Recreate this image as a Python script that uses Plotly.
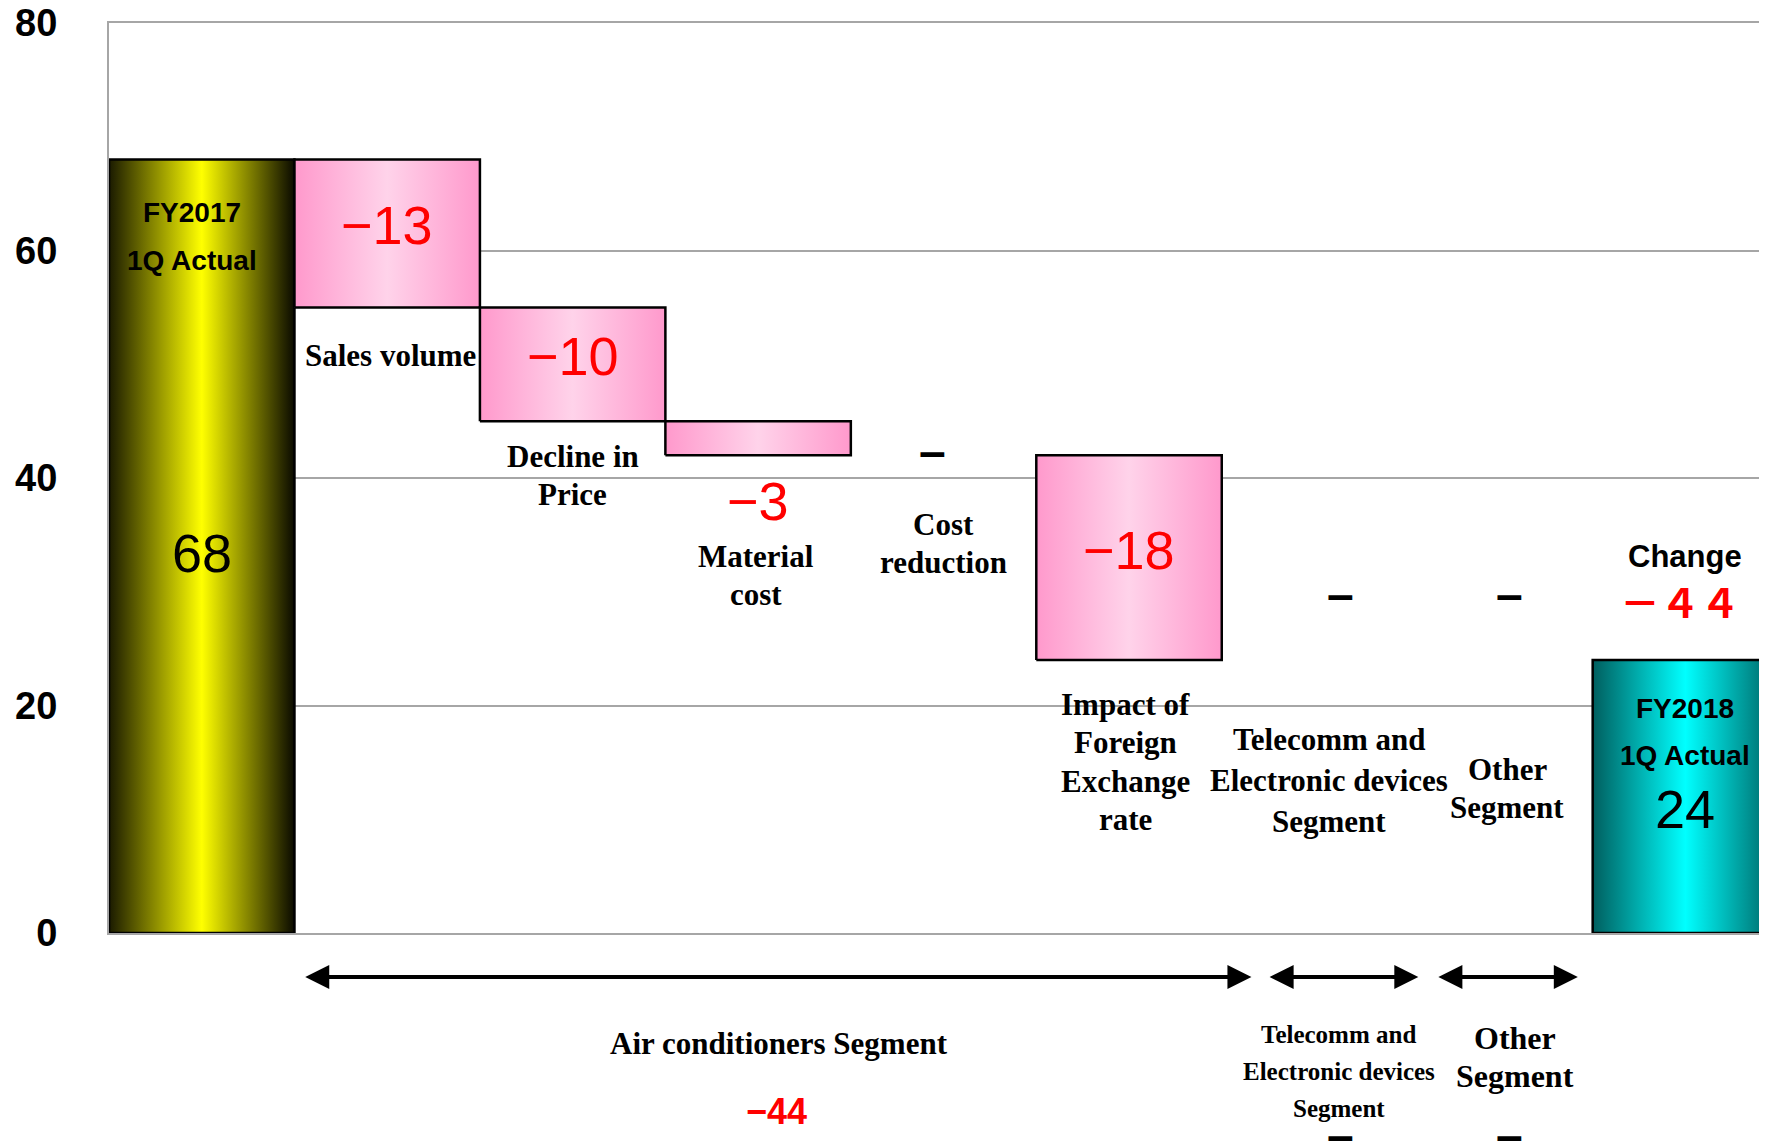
import plotly.graph_objects as go

# --- data -------------------------------------------------------------------
categories = [
    "FY2017 1Q Actual", "Sales volume", "Decline in Price", "Material cost",
    "Cost reduction", "Impact of Foreign Exchange rate",
    "Telecomm and Electronic devices Segment", "Other Segment", "FY2018 1Q Actual",
]
values = [68, -13, -10, -3, 0, -18, 0, 0, 24]
kinds = ["total", "delta", "delta", "delta", "delta", "delta", "delta", "delta", "total"]
value_labels = ["68", "−13", "−10", "−3", "", "−18", "", "", "24"]
y_ticks = [0, 20, 40, 60, 80]
segments = ["Air conditioners Segment", "Telecomm and Electronic devices Segment", "Other Segment"]
segment_changes = ["−44", "–", "–"]
total_change = "－４４"

SANS = "Liberation Sans, Arial, sans-serif"
SERIF = "Liberation Serif, Times New Roman, serif"
CJK = "Noto Sans CJK JP, sans-serif"
RED = "#ff0000"

PINK = [[0, "#ff99cc"], [0.5, "#ffd3ea"], [1, "#ff99cc"]]
YELLOW = [[0, "#1a1a00"], [0.5, "#ffff00"], [1, "#0a0a00"]]
TEAL = [[0, "#005e5e"], [0.5, "#00ffff"], [1, "#005e5e"]]

Y_MAX = 80
X_RANGE = [-0.5, 8.44]
W, H = 1759, 1136          # page body has an 8px margin
M = dict(l=101, r=0, t=15, b=211)
PX_PER_X = (W - M["l"] - M["r"]) / (X_RANGE[1] - X_RANGE[0])

# running totals -> bar extents
bottoms, tops = [], []
running = 0
for v, k in zip(values, kinds):
    if k == "total":
        bottoms.append(0)
        tops.append(v)
        running = v
    else:
        tops.append(running)
        bottoms.append(running + v)
        running += v

fig = go.Figure()
for i, (b, t, k) in enumerate(zip(bottoms, tops, kinds)):
    if b == t:
        continue
    if k == "total":
        scale = YELLOW if i == 0 else TEAL
    else:
        scale = PINK
    fig.add_trace(go.Scatter(
        x=[i - 0.5, i + 0.5, i + 0.5, i - 0.5, i - 0.5],
        y=[b, b, t, t, b],
        mode="lines", fill="toself",
        fillgradient=dict(type="horizontal", colorscale=scale),
        line=dict(color="black", width=2.5),
        hoverinfo="skip", showlegend=False,
    ))


def text(x, y, s, size, family=SERIF, color="black", bold=True):
    # y given in data units, placed through paper coords so it can sit below the axis
    fig.add_annotation(
        x=x, y=y / Y_MAX, xref="x", yref="paper", showarrow=False,
        text=f"<b>{s}</b>" if bold else s,
        font=dict(family=family, size=size, color=color),
        xanchor="center", yanchor="middle",
    )


def block(x, y, lines, size, step, family=SERIF, color="black"):
    for j, ln in enumerate(lines):
        text(x, y - j * step, ln, size, family, color)


def dash(x, y):
    text(x, y, "–", 48, SANS)


# value labels on the bars
for i, (b, t, lab) in enumerate(zip(bottoms, tops, value_labels)):
    if not lab or kinds[i] == "total":
        continue
    if abs(t - b) >= 5:
        text(i, (b + t) / 2 + 0.7, lab, 54, SANS, RED, bold=False)
    else:
        text(i, b - 4, lab, 54, SANS, RED, bold=False)

# totals
text(-0.05, 63.3, "FY2017", 28, SANS)
text(-0.05, 59.1, "1Q Actual", 28, SANS)
text(0.0, 33.4, value_labels[0], 54, SANS, bold=False)
text(8.0, 19.7, "FY2018", 28, SANS)
text(8.0, 15.6, "1Q Actual", 28, SANS)
text(8.0, 10.9, value_labels[8], 54, SANS, bold=False)
text(8.0, 33.1, "Change", 31, SANS)
text(7.97, 29.2, total_change, 40, CJK, RED)

# category labels
text(1.02, 50.8, "Sales volume", 31)
block(2.0, 41.9, ["Decline in", "Price"], 31, 3.34)
block(2.99, 33.1, ["Material", "cost"], 31, 3.34)
block(4.0, 35.9, ["Cost", "reduction"], 31, 3.34)
block(4.98, 20.1, ["Impact of", "Foreign", "Exchange", "rate"], 31, 3.37)
block(6.08, 17.0, ["Telecomm and", "Electronic devices", "Segment"], 31, 3.6)
block(7.04, 14.4, ["Other", "Segment"], 31, 3.34)

# zero-change dashes
dash(3.94, 42.3)
dash(6.14, 29.8)
dash(7.05, 29.8)

# segment arrows below the axis
ARROW_X = [(0.55, 5.66), (5.75, 6.56), (6.66, 7.42)]
for x0, x1 in ARROW_X:
    fig.add_annotation(
        x=x1, y=-3.87 / Y_MAX, xref="x", yref="paper",
        ax=-(x1 - x0) * PX_PER_X, ay=0, axref="pixel", ayref="pixel",
        text="", showarrow=True, arrowside="end+start",
        arrowhead=2, startarrowhead=2, arrowsize=1.2, startarrowsize=1.2,
        arrowwidth=4, arrowcolor="black", standoff=0, startstandoff=0,
    )

text(3.11, -9.75, segments[0], 31)
text(3.10, -15.7, segment_changes[0], 36, SANS, RED)
block(6.13, -8.96, ["Telecomm and", "Electronic devices", "Segment"], 25, 3.25)
dash(6.14, -17.8)
block(7.08, -9.2, ["Other", "Segment"], 32, 3.34)
dash(7.05, -17.8)

fig.update_layout(
    width=W, height=H, margin=M,
    plot_bgcolor="white", paper_bgcolor="white",
    showlegend=False,
    xaxis=dict(
        range=X_RANGE, showgrid=False, zeroline=False,
        showticklabels=False, showline=True, mirror=True,
        linecolor="#a6a6a6", linewidth=2, automargin=False,
    ),
    yaxis=dict(
        range=[0, Y_MAX], tickvals=y_ticks, showgrid=True,
        gridcolor="#a6a6a6", gridwidth=2,
        showline=True, linecolor="#a6a6a6", linewidth=2,
        zeroline=False, ticks="", ticklabelstandoff=42,
        ticklabeloverflow="allow", automargin=False,
        tickfont=dict(family=SANS, size=38, color="black", weight="bold"),
    ),
)

fig.write_html("out.html")
